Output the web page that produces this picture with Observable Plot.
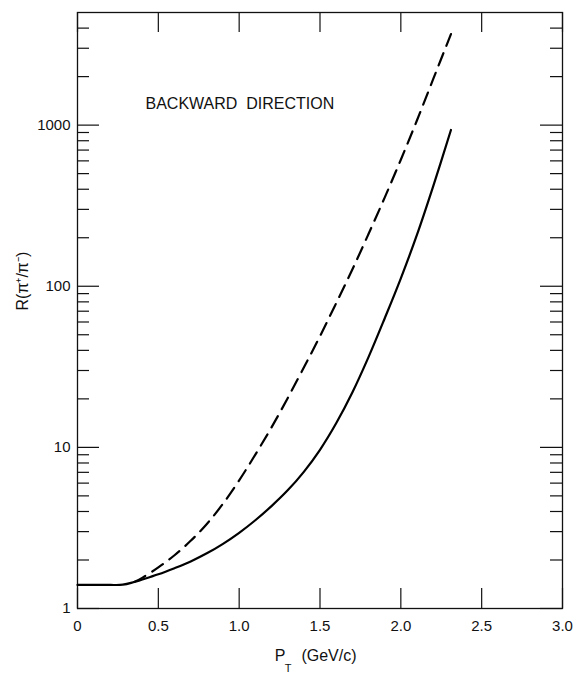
<!DOCTYPE html>
<html><head><meta charset="utf-8">
<script src="https://cdn.jsdelivr.net/npm/d3@7"></script>
<script src="https://cdn.jsdelivr.net/npm/@observablehq/plot@0.6"></script>
<style>body{margin:0;background:#fff}</style>
</head><body><div id="chart"></div>
<script>
// Solid curve: pT (GeV/c) and R(pi+/pi-)
const ptSolid = [0, 0.1, 0.2, 0.28, 0.35, 0.45, 0.5, 0.6, 0.7, 0.8, 0.9, 1.0, 1.1, 1.2, 1.3, 1.4, 1.5, 1.6, 1.7, 1.8, 1.9, 2.0, 2.1, 2.2, 2.31];
const rSolid  = [1.4, 1.4, 1.4, 1.405, 1.46, 1.57, 1.63, 1.78, 1.96, 2.20, 2.52, 2.95, 3.53, 4.32, 5.41, 7.05, 9.66, 14.1, 21.9, 36.3, 63.1, 112, 209, 417, 933];
// Dashed curve
const ptDashed = [0.35, 0.4, 0.5, 0.6, 0.7, 0.8, 0.9, 1.0, 1.1, 1.2, 1.3, 1.4, 1.5, 1.6, 1.7, 1.8, 1.9, 2.0, 2.1, 2.2, 2.31];
const rDashed  = [1.46, 1.55, 1.80, 2.14, 2.63, 3.35, 4.47, 6.24, 9.02, 13.3, 20.2, 31.3, 49.0, 78.5, 127, 211, 355, 610, 1072, 1928, 3673];

const xTicks = [0, 0.5, 1, 1.5, 2, 2.5, 3];
const yMajor = [1, 10, 100, 1000];
const yMinor = [2,3,4,5,6,7,8,9,20,30,40,50,60,70,80,90,200,300,400,500,600,700,800,900,2000,3000,4000];
const title = "BACKWARD  DIRECTION";
const yLabel = "R(π⁺/π⁻)";
const xLabelMain = "P";
const xLabelSub = "T";
const xLabelUnit = "(GeV/c)";

const solid = ptSolid.map((x, i) => ({x, y: rSolid[i]}));
const dashed = ptDashed.map((x, i) => ({x, y: rDashed[i]}));

const W = 577, H = 677, ML = 77, MR = 15, MT = 12, MB = 69;
const FW = W - ML - MR, FH = H - MT - MB;
const ink = "#111";

const chart = Plot.plot({
  width: W, height: H,
  marginLeft: ML, marginRight: MR, marginTop: MT, marginBottom: MB,
  style: {fontFamily: "'Liberation Sans', Arial, sans-serif", background: "#fff", color: ink},
  x: {domain: [0, 3]},
  y: {type: "log", domain: [1, 5000]},
  marks: [
    Plot.frame({stroke: ink, strokeWidth: 1.3}),
    Plot.tickX(xTicks, {x: d => d, insetTop: FH - 20, stroke: ink, strokeWidth: 1.2}),
    Plot.tickX(xTicks, {x: d => d, insetBottom: FH - 20, stroke: ink, strokeWidth: 1.2}),
    Plot.tickY(yMajor, {y: d => d, insetRight: FW - 22, stroke: ink, strokeWidth: 1.2}),
    Plot.tickY(yMajor, {y: d => d, insetLeft: FW - 22, stroke: ink, strokeWidth: 1.2}),
    Plot.tickY(yMinor, {y: d => d, insetRight: FW - 12, stroke: ink, strokeWidth: 1.2}),
    Plot.tickY(yMinor, {y: d => d, insetLeft: FW - 12, stroke: ink, strokeWidth: 1.2}),
    Plot.axisX(xTicks, {tickSize: 0, tickPadding: 12, fontSize: 15, label: null,
      tickFormat: d => d === 0 ? "0" : d.toFixed(1)}),
    Plot.axisY(yMajor, {tickSize: 0, tickPadding: 7, fontSize: 15, label: null,
      tickFormat: d => String(d)}),
    Plot.line(solid, {x: "x", y: "y", stroke: "#000", strokeWidth: 2.2, curve: "catmull-rom"}),
    Plot.line(dashed, {x: "x", y: "y", stroke: "#000", strokeWidth: 2.2, strokeDasharray: "13,8", curve: "catmull-rom"}),
    Plot.text([title], {frameAnchor: "top-left", text: d => d, dx: 68, dy: 85, textAnchor: "start", fontSize: 16, fill: ink}),
    Plot.text([yLabel], {frameAnchor: "left", text: d => d, dx: -55, rotate: -90, fontSize: 16, fill: ink}),
    Plot.text([xLabelMain], {frameAnchor: "bottom", text: d => d, dx: -40, dy: 52, fontSize: 16, fill: ink}),
    Plot.text([xLabelSub], {frameAnchor: "bottom", text: d => d, dx: -32, dy: 63, fontSize: 11, fill: ink}),
    Plot.text([xLabelUnit], {frameAnchor: "bottom", text: d => d, dx: 9, dy: 52, fontSize: 16, fill: ink})
  ]
});
document.getElementById("chart").appendChild(chart);
</script>
</body></html>
